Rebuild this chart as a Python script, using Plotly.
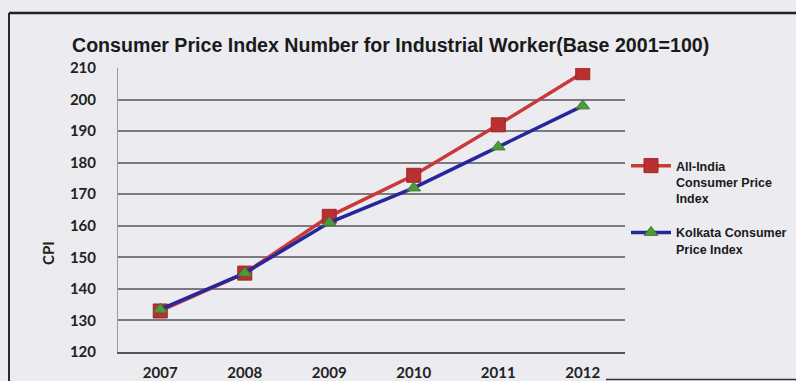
import plotly.graph_objects as go

years = ["2007", "2008", "2009", "2010", "2011", "2012"]
all_india_cpi = [133, 145, 163, 176, 192, 208.5]
kolkata_cpi = [133.5, 145, 161, 172, 185, 198]
y_ticks = [120, 130, 140, 150, 160, 170, 180, 190, 200, 210]

W, H = 796, 381
L, R, T, B = 118, 171, 68, 29
PW, PH = W - L - R, H - T - B
paper_bg = "#ebebf0"


def px_x(x):
    return (x - L) / PW


def px_y(y):
    return (H - B - y) / PH


fig = go.Figure()

fig.add_trace(go.Scatter(
    x=years, y=all_india_cpi, mode="lines+markers",
    name="All-India<br>Consumer Price<br>Index", legendgroup="allindia",
    line=dict(color="#c9393a", width=3.5),
    marker=dict(symbol="square", size=14, color="#b8302f",
                line=dict(color="#9a2626", width=1)),
))
fig.add_trace(go.Scatter(
    x=years, y=kolkata_cpi, mode="lines+markers",
    name="Kolkata Consumer<br>Price Index", legendgroup="kolkata",
    line=dict(color="#25279a", width=3.5),
    marker=dict(symbol="triangle-up", size=12, color="#4e9a3c",
                line=dict(color="#3c7f2e", width=1)),
))

tick_font = dict(family="Lato, 'Open Sans', sans-serif", size=15,
                 color="#222", weight="bold")

fig.update_layout(
    width=W, height=H,
    margin=dict(l=L, r=R, t=T, b=B, autoexpand=False),
    paper_bgcolor=paper_bg, plot_bgcolor=paper_bg,
    title=dict(
        text="<b>Consumer Price Index Number for Industrial Worker(Base 2001=100)</b>",
        font=dict(family="'Liberation Sans', Arial, sans-serif",
                  size=19.6, color="#1a1a1a"),
        x=72 / W, xanchor="left", y=1 - 45 / H, yanchor="middle",
    ),
    xaxis=dict(
        type="category", range=[-0.5, 5.5], automargin=False,
        showgrid=False, showline=True, linecolor="#555", linewidth=2,
        ticks="", tickfont=tick_font, ticklabelstandoff=6,
    ),
    yaxis=dict(
        range=[120, 210], tickvals=y_ticks, automargin=False,
        showgrid=True, gridcolor="#7a7a80", gridwidth=1.5,
        showline=True, linecolor="#9a9aa0", linewidth=1,
        ticks="", tickfont=tick_font, ticklabelstandoff=18,
    ),
    legend=dict(
        x=px_x(626), xanchor="left", y=px_y(151), yanchor="top",
        valign="top", bgcolor="rgba(0,0,0,0)", itemwidth=40,
        tracegroupgap=15,
        font=dict(family="'Liberation Sans', Arial, sans-serif",
                  size=12.5, color="#1a1a1a", weight="bold"),
    ),
    showlegend=True,
)

# Y-axis title
fig.add_annotation(
    text="<b>CPI</b>", xref="paper", yref="paper",
    x=px_x(37), y=px_y(253),
    showarrow=False, textangle=-90,
    font=dict(family="Lato, sans-serif", size=15, color="#222"),
)

# Frame lines around the chart
fig.add_shape(type="line", xref="paper", yref="paper",
              x0=px_x(9), x1=px_x(W), y0=px_y(13), y1=px_y(13),
              line=dict(color="#222", width=2.5))
fig.add_shape(type="line", xref="paper", yref="paper",
              x0=px_x(9), x1=px_x(9), y0=px_y(13), y1=px_y(H),
              line=dict(color="#2a2a2a", width=2))
fig.add_shape(type="line", xref="paper", yref="paper",
              x0=px_x(606), x1=px_x(W), y0=px_y(379.5), y1=px_y(379.5),
              line=dict(color="#333", width=1.5))

fig.write_html("out.html")
